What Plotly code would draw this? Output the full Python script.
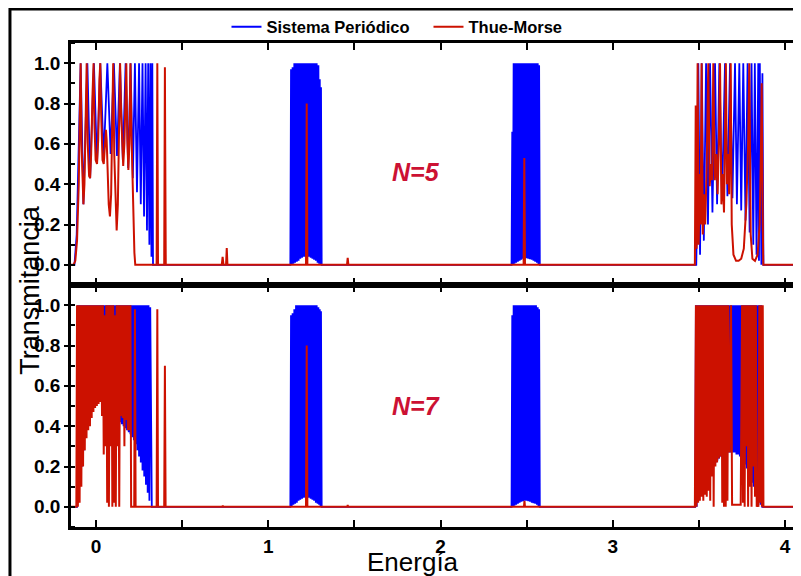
import plotly.graph_objects as go
from plotly.subplots import make_subplots

# ---- N=5, sistema periodico (azul) ----
per5_b1_e = [-0.145, -0.125, -0.112, -0.089, -0.073, -0.050, -0.034, -0.012, 0.006, 0.025,
             0.045, 0.066, 0.085, 0.104, 0.122, 0.139, 0.156, 0.172, 0.187, 0.201,
             0.214, 0.226, 0.238, 0.250, 0.260, 0.270, 0.279, 0.288, 0.296, 0.303,
             0.310, 0.316, 0.322, 0.327, 0.331, 0.335]
per5_b1_t = [0, 0, 0.15, 1, 0.30, 1, 0.43, 1, 0.50, 1,
             0.53, 1, 0.55, 1, 0.54, 1, 0.52, 1, 0.48, 1,
             0.43, 1, 0.36, 1, 0.30, 1, 0.24, 1, 0.17, 1,
             0.10, 1, 0.04, 1, 0.0, 0.0]
per5_b2_e = [1.128, 1.132, 1.136, 1.141, 1.146, 1.151, 1.156, 1.161, 1.166, 1.171,
             1.176, 1.181, 1.186, 1.191, 1.196, 1.201, 1.206, 1.211, 1.216, 1.221,
             1.226, 1.231, 1.236, 1.241, 1.246, 1.251, 1.256, 1.261, 1.266, 1.271,
             1.276, 1.281, 1.286, 1.291, 1.295, 1.299, 1.303, 1.306, 1.310]
per5_b2_t = [0, 0.97, 0.0, 0.98, 0.005, 1, 0.01, 1, 0.015, 1,
             0.02, 1, 0.03, 1, 0.035, 1, 0.04, 1, 0.04, 1,
             0.04, 1, 0.04, 1, 0.035, 1, 0.03, 1, 0.025, 1,
             0.02, 1, 0.01, 0.99, 0.005, 0.92, 0.0, 0.88, 0.0]
per5_b3_e = [2.412, 2.416, 2.420, 2.424, 2.429, 2.434, 2.439, 2.444, 2.449, 2.454,
             2.459, 2.464, 2.469, 2.474, 2.479, 2.484, 2.489, 2.494, 2.499, 2.504,
             2.509, 2.514, 2.519, 2.524, 2.529, 2.534, 2.539, 2.544, 2.549, 2.554,
             2.559, 2.564, 2.568, 2.572, 2.576]
per5_b3_t = [0, 0.66, 0.0, 1, 0.005, 1, 0.01, 1, 0.015, 1,
             0.02, 1, 0.025, 1, 0.03, 1, 0.033, 1, 0.033, 1,
             0.03, 1, 0.028, 1, 0.025, 1, 0.02, 1, 0.015, 1,
             0.01, 1, 0.003, 0.99, 0.0]
per5_b4_e = [3.484, 3.490, 3.496, 3.506, 3.516, 3.528, 3.541, 3.552, 3.564, 3.578,
             3.593, 3.605, 3.618, 3.634, 3.651, 3.665, 3.680, 3.694, 3.709, 3.720,
             3.734, 3.745, 3.757, 3.770, 3.782, 3.794, 3.805, 3.815, 3.824, 3.834,
             3.844, 3.848, 3.853, 3.862, 3.868, 3.874, 4.074, 4.082, 4.090, 4.100]
per5_b4_t = [0, 0.3, 1, 0.05, 1, 0.12, 1, 0.2, 1, 0.26,
             1, 0.3, 1, 0.33, 1, 0.34, 1, 0.33, 1, 0.3,
             1, 0.27, 1, 0.22, 1, 0.16, 1, 0.1, 1, 0.05,
             1, 0.02, 1, 0.0, 0.95, 0.0, 0, 0.5, 0.9, 0.6]

# ---- N=5, Thue-Morse (rojo) ----
tm5_b1_e = [-0.145, -0.130, -0.120, -0.110, -0.100, -0.094, -0.089, -0.084, -0.078, -0.073,
            -0.067, -0.060, -0.054, -0.048, -0.040, -0.034, -0.028, -0.020, -0.014, -0.009,
            -0.002, 0.006, 0.013, 0.020, 0.025, 0.030, 0.038, 0.045, 0.052, 0.058,
            0.062, 0.067, 0.074, 0.081, 0.088, 0.095, 0.100, 0.106, 0.114, 0.120,
            0.127, 0.134, 0.140, 0.146, 0.152, 0.158, 0.165, 0.171, 0.176, 0.182,
            0.188, 0.194, 0.200, 0.206, 0.212, 0.218, 0.223, 0.228, 0.240]
tm5_b1_t = [0, 0, 0.02, 0.12, 0.40, 0.80, 1.0, 0.60, 0.34, 0.30,
            0.40, 0.75, 1.0, 0.60, 0.44, 0.43, 0.55, 0.85, 1.0, 0.70,
            0.52, 0.50, 0.62, 0.92, 1.0, 0.75, 0.52, 0.50, 0.58, 0.67,
            0.62, 0.45, 0.30, 0.24, 0.35, 0.75, 1.0, 0.55, 0.25, 0.17,
            0.30, 0.75, 1.0, 0.75, 0.55, 0.49, 0.60, 0.95, 1.0, 0.62,
            0.47, 0.60, 1.0, 0.65, 0.40, 0.18, 0.06, 0.0, 0.0]
tm5_sp_e = [0.352, 0.356, 0.360, 0.396, 0.400, 0.402, 0.405, 0.730, 0.735, 0.740,
            0.755, 0.759, 0.763, 1.219, 1.223, 1.227, 1.457, 1.461, 1.465, 2.482,
            2.486, 2.490]
tm5_sp_t = [0, 1.0, 0, 0, 0.98, 0.57, 0, 0, 0.04, 0,
            0, 0.083, 0, 0, 0.80, 0, 0, 0.035, 0, 0,
            0.53, 0]
tm5_b4_e = [3.476, 3.481, 3.486, 3.492, 3.498, 3.505, 3.510, 3.515, 3.522, 3.530,
            3.536, 3.545, 3.554, 3.562, 3.570, 3.576, 3.583, 3.592, 3.600, 3.608,
            3.615, 3.622, 3.630, 3.638, 3.645, 3.650, 3.656, 3.662, 3.668, 3.675,
            3.684, 3.690, 3.700, 3.715, 3.730, 3.745, 3.760, 3.775, 3.785, 3.792,
            3.800, 3.810, 3.825, 3.840, 3.852, 3.860, 3.864, 3.869, 3.873,
            4.072, 4.078, 4.085, 4.092, 4.100]
tm5_b4_t = [0, 0.79, 0.08, 1.0, 0.10, 0.45, 0.20, 1.0, 0.15, 0.35,
            0.20, 0.50, 1.0, 0.39, 0.50, 0.42, 1.0, 0.42, 0.55, 0.35,
            0.60, 1.0, 0.30, 0.45, 0.26, 0.60, 1.0, 0.40, 0.55, 0.35,
            1.0, 0.20, 0.05, 0.02, 0.02, 0.03, 0.08, 0.30, 0.60, 1.0,
            0.15, 0.03, 0.02, 0.05, 0.20, 0.60, 0.90, 0.30, 0.0,
            0, 0.3, 0.95, 0.7, 0.5]

# ---- N=7, sistema periodico (azul) ----
per7_b1_e = [-0.145, -0.115, -0.110, -0.105, -0.100, -0.095, -0.090, -0.085, -0.080, -0.075,
             -0.070, -0.065, -0.060, -0.055, -0.050, -0.045, -0.040, -0.035, -0.030, -0.025,
             -0.020, -0.015, -0.010, -0.005, 0.000, 0.005, 0.010, 0.015, 0.020, 0.025,
             0.030, 0.035, 0.040, 0.045, 0.050, 0.055, 0.060, 0.065, 0.070, 0.075,
             0.080, 0.085, 0.090, 0.095, 0.100, 0.105, 0.110, 0.115, 0.120, 0.125,
             0.130, 0.135, 0.140, 0.145, 0.150, 0.155, 0.160, 0.165, 0.170, 0.175,
             0.180, 0.185, 0.190, 0.195, 0.200, 0.205, 0.210, 0.215, 0.220, 0.225,
             0.230, 0.235, 0.240, 0.245, 0.250, 0.255, 0.260, 0.265, 0.270, 0.275,
             0.280, 0.285, 0.290, 0.295, 0.300, 0.305, 0.310, 0.315, 0.320, 0.324]
per7_b1_t = [0, 0, 0.00, 1, 0.05, 1, 0.12, 1, 0.20, 1,
             0.28, 1, 0.36, 1, 0.40, 1, 0.42, 1, 0.44, 1,
             0.47, 1, 0.49, 1, 0.50, 1, 0.51, 1, 0.52, 1,
             0.52, 1, 0.52, 1, 0.51, 1, 0.50, 1, 0.49, 1,
             0.48, 1, 0.47, 1, 0.46, 1, 0.45, 1, 0.44, 1,
             0.43, 1, 0.42, 1, 0.41, 1, 0.40, 1, 0.39, 1,
             0.38, 1, 0.37, 1, 0.36, 1, 0.345, 1, 0.33, 1,
             0.31, 1, 0.28, 1, 0.25, 1, 0.22, 1, 0.18, 1,
             0.15, 1, 0.11, 1, 0.07, 1, 0.03, 0.99, 0.0, 0.0]
per7_b2_e = [1.128, 1.132, 1.136, 1.141, 1.146, 1.151, 1.156, 1.161, 1.166, 1.171,
             1.176, 1.181, 1.186, 1.191, 1.196, 1.201, 1.206, 1.211, 1.216, 1.221,
             1.226, 1.231, 1.236, 1.241, 1.246, 1.251, 1.256, 1.261, 1.266, 1.271,
             1.276, 1.281, 1.286, 1.291, 1.295, 1.299, 1.303, 1.306, 1.310]
per7_b2_t = [0, 0.95, 0.0, 0.96, 0.01, 0.98, 0.015, 1, 0.02, 1,
             0.03, 1, 0.035, 1, 0.04, 1, 0.045, 1, 0.046, 1,
             0.046, 1, 0.045, 1, 0.04, 1, 0.035, 1, 0.03, 1,
             0.02, 1, 0.015, 0.99, 0.01, 0.98, 0.0, 0.97, 0.0]
per7_b3_e = [2.412, 2.416, 2.420, 2.424, 2.429, 2.434, 2.439, 2.444, 2.449, 2.454,
             2.459, 2.464, 2.469, 2.474, 2.479, 2.484, 2.489, 2.494, 2.499, 2.504,
             2.509, 2.514, 2.519, 2.524, 2.529, 2.534, 2.539, 2.544, 2.549, 2.554,
             2.559, 2.564, 2.568, 2.572, 2.576]
per7_b3_t = [0, 0.95, 0.0, 1, 0.005, 1, 0.01, 1, 0.015, 1,
             0.02, 1, 0.025, 1, 0.028, 1, 0.03, 1, 0.03, 1,
             0.028, 1, 0.025, 1, 0.02, 1, 0.018, 1, 0.015, 1,
             0.01, 0.99, 0.003, 0.98, 0.0]
per7_b4_e = [3.478, 3.482, 3.487, 3.492, 3.497, 3.502, 3.507, 3.512, 3.517, 3.522,
             3.527, 3.532, 3.537, 3.542, 3.547, 3.552, 3.557, 3.562, 3.567, 3.572,
             3.577, 3.582, 3.587, 3.592, 3.597, 3.602, 3.607, 3.612, 3.617, 3.622,
             3.627, 3.632, 3.637, 3.642, 3.647, 3.652, 3.657, 3.662, 3.667, 3.672,
             3.677, 3.682, 3.687, 3.692, 3.697, 3.702, 3.707, 3.712, 3.717, 3.722,
             3.727, 3.732, 3.737, 3.742, 3.747, 3.752, 3.757, 3.762, 3.767, 3.772,
             3.777, 3.782, 3.787, 3.792, 3.797, 3.802, 3.807, 3.812, 3.817, 3.822,
             3.827, 3.832, 3.837, 3.842, 3.847, 3.852, 3.857, 3.862, 3.867, 3.873,
             4.074, 4.080, 4.088, 4.100]
per7_b4_t = [0, 1, 0.0, 1, 0.03, 1, 0.06, 1, 0.08, 1,
             0.10, 1, 0.12, 1, 0.14, 1, 0.16, 1, 0.18, 1,
             0.20, 1, 0.21, 1, 0.22, 1, 0.23, 1, 0.24, 1,
             0.25, 1, 0.26, 1, 0.26, 1, 0.27, 1, 0.27, 1,
             0.27, 1, 0.27, 1, 0.27, 1, 0.27, 1, 0.26, 1,
             0.26, 1, 0.25, 1, 0.24, 1, 0.22, 1, 0.21, 1,
             0.19, 1, 0.17, 1, 0.15, 1, 0.12, 1, 0.10, 1,
             0.08, 1, 0.05, 1, 0.03, 1, 0.01, 1, 0.0, 0.0,
             0, 0.9, 0.95, 0.9]

# ---- N=7, Thue-Morse (rojo) ----
tm7_b1_e = [-0.145, -0.114, -0.110, -0.105, -0.100, -0.095, -0.090, -0.085, -0.080, -0.075,
            -0.070, -0.065, -0.060, -0.055, -0.050, -0.045, -0.040, -0.035, -0.030, -0.025,
            -0.020, -0.015, -0.010, -0.005, 0.000, 0.005, 0.010, 0.015, 0.020, 0.025,
            0.030, 0.035, 0.040, 0.045, 0.050, 0.055, 0.060, 0.065, 0.070, 0.075,
            0.080, 0.085, 0.090, 0.095, 0.100, 0.105, 0.110, 0.115, 0.120, 0.125,
            0.130, 0.135, 0.140, 0.145, 0.150, 0.155, 0.160, 0.165, 0.170, 0.175,
            0.180, 0.185, 0.190, 0.195, 0.200, 0.204, 0.222, 0.226, 0.230, 0.352,
            0.356, 0.360, 0.396, 0.400, 0.404, 0.734, 0.736, 0.738, 1.219, 1.223,
            1.227, 1.459, 1.461, 1.463, 2.484, 2.487, 2.490]
tm7_b1_t = [0, 0, 1.0, 0.0, 1.0, 0.02, 1.0, 0.10, 1.0, 0.20,
            1.0, 0.28, 1.0, 0.34, 1.0, 0.38, 1.0, 0.40, 1.0, 0.44,
            1.0, 0.47, 1.0, 0.49, 1.0, 0.50, 1.0, 0.51, 1.0, 0.52,
            1.0, 0.45, 1.0, 0.26, 0.95, 0.30, 1.0, 0.02, 1.0, 0.0,
            1.0, 0.30, 1.0, 0.0, 1.0, 0.02, 0.95, 0.0, 1.0, 0.30,
            1.0, 0.0, 1.0, 0.45, 1.0, 0.44, 1.0, 0.30, 1.0, 0.43,
            1.0, 0.38, 1.0, 0.38, 1.0, 0.0, 0.0, 0.98, 0.0, 0.0,
            0.98, 0.0, 0.0, 0.70, 0.0, 0.0, 0.006, 0.0, 0.0, 0.80,
            0.0, 0.0, 0.01, 0.0, 0.0, 0.03, 0.0]
tm7_b4_e = [3.476, 3.482, 3.485, 3.490, 3.495, 3.500, 3.505, 3.510, 3.515, 3.520,
            3.525, 3.530, 3.535, 3.540, 3.545, 3.550, 3.555, 3.560, 3.565, 3.570,
            3.575, 3.580, 3.585, 3.590, 3.595, 3.600, 3.605, 3.610, 3.615, 3.620,
            3.625, 3.630, 3.635, 3.640, 3.645, 3.650, 3.655, 3.660, 3.665, 3.670,
            3.678, 3.686, 3.692, 3.700, 3.720, 3.742, 3.750, 3.755, 3.760, 3.765,
            3.770, 3.775, 3.780, 3.785, 3.790, 3.795, 3.800, 3.805, 3.810, 3.815,
            3.820, 3.825, 3.830, 3.835, 3.840, 3.845, 3.850, 3.855, 3.860, 3.865,
            3.870, 3.874, 4.072, 4.078, 4.084, 4.090, 4.100]
tm7_b4_t = [0, 1.0, 0.0, 1.0, 0.02, 1.0, 0.03, 1.0, 0.05, 1.0,
            0.03, 1.0, 0.06, 1.0, 0.05, 1.0, 0.08, 1.0, 0.03, 1.0,
            0.15, 1.0, 0.0, 1.0, 0.20, 1.0, 0.22, 1.0, 0.24, 1.0,
            0.25, 1.0, 0.02, 1.0, 0.0, 1.0, 0.0, 1.0, 0.03, 1.0,
            0.27, 1.0, 0.01, 0.01, 0.01, 0.01, 1.0, 0.02, 1.0, 0.0,
            1.0, 0.30, 1.0, 0.0, 1.0, 0.10, 1.0, 0.0, 1.0, 0.20,
            1.0, 0.05, 1.0, 0.0, 0.02, 0.0, 1.0, 0.02, 1.0, 0.0,
            1.0, 0.0, 0, 1.0, 0.4, 1.0, 0.6]

x_ticks = [0, 1, 2, 3, 4]

AZUL = "#0000ff"
ROJO = "#cc1100"
NEGRO = "black"


def serie(*partes):
    e, t = [], []
    for pe, pt in partes:
        assert len(pe) == len(pt), (len(pe), len(pt))
        e += pe
        t += pt
    return e, t


e_per5, t_per5 = serie((per5_b1_e, per5_b1_t), (per5_b2_e, per5_b2_t),
                       (per5_b3_e, per5_b3_t), (per5_b4_e, per5_b4_t))
e_tm5, t_tm5 = serie((tm5_b1_e, tm5_b1_t), (tm5_sp_e, tm5_sp_t), (tm5_b4_e, tm5_b4_t))
e_per7, t_per7 = serie((per7_b1_e, per7_b1_t), (per7_b2_e, per7_b2_t),
                       (per7_b3_e, per7_b3_t), (per7_b4_e, per7_b4_t))
e_tm7, t_tm7 = serie((tm7_b1_e, tm7_b1_t), (tm7_b4_e, tm7_b4_t))

fig = make_subplots(rows=2, cols=1, shared_xaxes=True, vertical_spacing=0)

fig.add_trace(go.Scatter(x=e_per5, y=t_per5, mode="lines", name="Sistema Periódico",
                         line=dict(color=AZUL, width=1.8)), row=1, col=1)
fig.add_trace(go.Scatter(x=e_tm5, y=t_tm5, mode="lines", name="Thue-Morse",
                         line=dict(color=ROJO, width=2)), row=1, col=1)
fig.add_trace(go.Scatter(x=e_per7, y=t_per7, mode="lines", showlegend=False,
                         line=dict(color=AZUL, width=1.8)), row=2, col=1)
fig.add_trace(go.Scatter(x=e_tm7, y=t_tm7, mode="lines", showlegend=False,
                         line=dict(color=ROJO, width=2)), row=2, col=1)

tick_font = dict(family="Arial", size=19, color=NEGRO, weight="bold")

fig.update_xaxes(range=[-0.145, 4.092], tickvals=x_ticks, ticks="inside", ticklen=7,
                 tickwidth=2, tickcolor=NEGRO, showline=True, linewidth=2.5,
                 linecolor=NEGRO, mirror="ticks", showgrid=False, zeroline=False,
                 minor=dict(dtick=0.5, tick0=0, ticks="inside", ticklen=7,
                            tickwidth=2, tickcolor=NEGRO),
                 tickfont=tick_font)
fig.update_xaxes(showticklabels=False, row=1, col=1)
fig.update_xaxes(showticklabels=True, row=2, col=1)
fig.update_yaxes(range=[-0.1, 1.1], dtick=0.2, tick0=0, tickformat=".1f",
                 ticks="outside", ticklen=4, tickwidth=2, tickcolor=NEGRO,
                 showline=True, linewidth=2.5, linecolor=NEGRO,
                 showgrid=False, zeroline=False,
                 minor=dict(dtick=0.1, tick0=0, ticks="inside", ticklen=4,
                            tickwidth=2, tickcolor=NEGRO),
                 tickfont=tick_font)

# la pagina deja 8 px de margen: la figura se dibuja en 793x568
fig.update_layout(
    width=793, height=568,
    margin=dict(l=63, r=0, t=35, b=49),
    plot_bgcolor="white", paper_bgcolor="white",
    font=dict(family="Arial", color=NEGRO),
    legend=dict(orientation="h", x=0.213, y=1.033, xanchor="left", yanchor="middle",
                font=dict(family="Arial", size=16.5, color=NEGRO, weight="bold"),
                bgcolor="rgba(0,0,0,0)", entrywidth=157),
    shapes=[dict(type="rect", xref="paper", yref="paper", x0=-0.0836, x1=1.1,
                 y0=-0.2, y1=1.0702, line=dict(color=NEGRO, width=3))],
    annotations=[
        dict(text="Energía", xref="paper", yref="paper", x=0.468, y=-0.072,
             xanchor="center", yanchor="middle", showarrow=False,
             font=dict(family="Arial", size=26, color=NEGRO)),
        dict(text="Transmitancia", xref="paper", yref="paper", x=-0.0562, y=0.49,
             xanchor="center", yanchor="middle", textangle=-90, showarrow=False,
             font=dict(family="Arial", size=27, color=NEGRO)),
        dict(text="<i>N=5</i>", xref="x", yref="y", x=1.86, y=0.46, showarrow=False,
             font=dict(family="Arial", size=25, color="#cc1133", weight="bold")),
        dict(text="<i>N=7</i>", xref="x2", yref="y2", x=1.86, y=0.5, showarrow=False,
             font=dict(family="Arial", size=25, color="#cc1133", weight="bold")),
    ],
)

fig.write_html("out.html")
